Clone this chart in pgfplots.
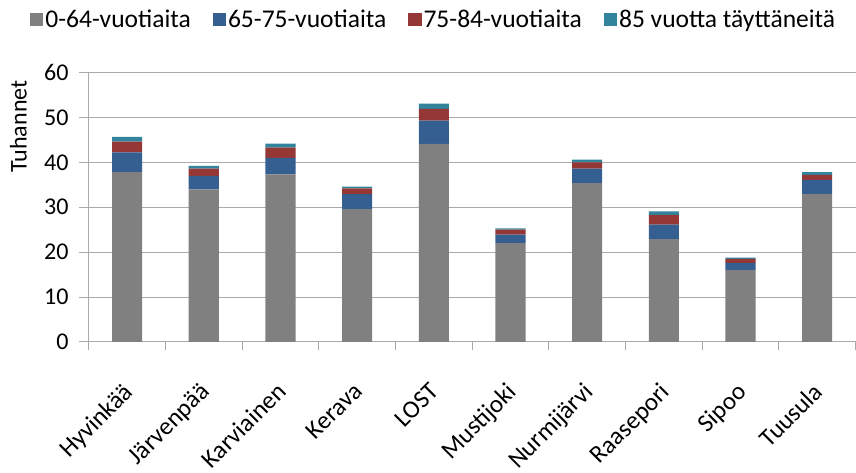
\documentclass[border=0pt]{standalone}
\usepackage{pgfplots}
\pgfplotsset{compat=1.18}
\usepackage{fontspec}
\setmainfont{Carlito}
\definecolor{cgray}{RGB}{128,128,128}
\definecolor{cblue}{RGB}{53,94,145}
\definecolor{cred}{RGB}{149,55,53}
\definecolor{cteal}{RGB}{49,132,155}
\definecolor{gridc}{RGB}{170,170,170}
\begin{document}
\begin{tikzpicture}
\begin{axis}[
  scale only axis,
  width=763bp, height=268bp,
  ybar stacked,
  bar width=30bp,
  xmin=-0.5, xmax=9.5,
  ymin=0, ymax=60,
  ytick={0,10,...,60},
  xtick={0,...,9},
  xticklabels={Hyvinkää,Järvenpää,Karviainen,Kerava,LOST,Mustijoki,Nurmijärvi,Raasepori,Sipoo,Tuusula},
  x tick label style={rotate=45, anchor=north east, font=\fontsize{25}{28}\selectfont, inner sep=0pt, xshift=-24bp, yshift=-17bp},
  y tick label style={font=\fontsize{24}{28}\selectfont, inner sep=0pt, xshift=-10bp},
  /pgf/number format/assume math mode=true,
  xtick style={draw=none},
  minor xtick={-0.5,0.5,...,9.5},
  minor tick length=8bp,
  major tick length=10bp,
  tick align=outside,
  ytick style={draw=gridc, line width=1pt},
  minor x tick style={draw=gridc, line width=1pt},
  ymajorgrids,
  grid style={draw=gridc, line width=1pt},
  axis x line*=bottom,
  axis y line*=left,
  axis line style={draw=gridc, line width=1pt, -},
  ylabel={Tuhannet},
  ylabel style={at={([xshift=-70bp]axis description cs:0,0.80)}, anchor=center, inner sep=10bp, font=\fontsize{24}{28}\selectfont},
  legend style={at={([yshift=33bp]axis description cs:0.45,1)}, anchor=south, draw=none, inner sep=8bp, legend columns=4, font=\fontsize{25.5}{28}\selectfont, /tikz/every even column/.append style={column sep=20bp}},
  legend image code/.code={\fill[#1] (0bp,-6.5bp) rectangle (13bp,6.5bp);},
  every axis plot/.append style={draw=none},
]
\addplot[fill=cgray] coordinates {(0,37.8) (1,34.0) (2,37.3) (3,29.6) (4,44.1) (5,22.0) (6,35.4) (7,22.9) (8,16.0) (9,32.9)};
\addplot[fill=cblue] coordinates {(0,4.4) (1,3.0) (2,3.7) (3,3.3) (4,5.2) (5,1.9) (6,3.2) (7,3.2) (8,1.6) (9,3.2)};
\addplot[fill=cred] coordinates {(0,2.4) (1,1.6) (2,2.3) (3,1.3) (4,2.6) (5,1.1) (6,1.4) (7,2.2) (8,0.9) (9,1.1)};
\addplot[fill=cteal] coordinates {(0,1.1) (1,0.6) (2,0.9) (3,0.4) (4,1.2) (5,0.3) (6,0.6) (7,0.8) (8,0.3) (9,0.6)};
\legend{0-64-vuotiaita,65-75-vuotiaita,75-84-vuotiaita,85 vuotta täyttäneitä}
\end{axis}
\end{tikzpicture}
\end{document}
